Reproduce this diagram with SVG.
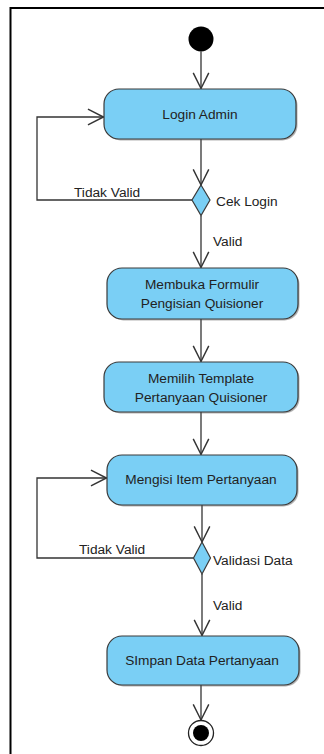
<svg xmlns="http://www.w3.org/2000/svg" width="324" height="754" viewBox="0 0 324 754">
<style>
.act{fill:#7ACFF5;stroke:#3a3a3a;stroke-width:1.2}
.shd{fill:#555;opacity:0.45}
.dec{fill:#7ACFF5;stroke:#3a3a3a;stroke-width:1.2}
.t{font-family:"Liberation Sans",Arial,sans-serif;font-size:13.7px;fill:#222}
.c{text-anchor:middle}
.ln{fill:none;stroke:#333;stroke-width:1.3}
</style>
<defs>
<marker id="open" markerUnits="userSpaceOnUse" markerWidth="20" markerHeight="20" viewBox="-16 -9 18 18" refX="0" refY="0" orient="auto">
<path d="M-14,-7 L0,0 L-14,7" fill="none" stroke="#333" stroke-width="1.3"/>
</marker>
</defs>
<path d="M10.5,754 V8 H324" fill="none" stroke="#000" stroke-width="2"/>
<g id="connectors">
<path class="ln" d="M201,51.5 V88.5" marker-end="url(#open)"/>
<path class="ln" d="M201,139 V185" marker-end="url(#open)"/>
<path class="ln" d="M192,200 H37 V117 H103.5" marker-end="url(#open)"/>
<path class="ln" d="M201,215.5 V267.5" marker-end="url(#open)"/>
<path class="ln" d="M201,319 V361.5" marker-end="url(#open)"/>
<path class="ln" d="M201,412 V454.5" marker-end="url(#open)"/>
<path class="ln" d="M202,505 V542" marker-end="url(#open)"/>
<path class="ln" d="M193.5,558 H37 V478 H106.5" marker-end="url(#open)"/>
<path class="ln" d="M202,574 V635.5" marker-end="url(#open)"/>
<path class="ln" d="M201,685 V720" marker-end="url(#open)"/>
<text class="t" x="74" y="197">Tidak Valid</text>
<text class="t" x="213" y="246">Valid</text>
<text class="t" x="79" y="554">Tidak Valid</text>
<text class="t" x="213" y="610">Valid</text>
</g>
<g id="start">
<circle cx="201" cy="39" r="12.5" fill="#000"/>
</g>
<g id="login-admin">
<rect class="shd" x="105.5" y="90.5" width="192" height="50" rx="15"/>
<rect class="act" x="104" y="89" width="192" height="50" rx="15"/>
<text class="t c" x="200" y="119">Login Admin</text>
</g>
<g id="cek-login">
<polygon class="dec" points="201,185 210,200 201,215.5 192,200"/>
<text class="t" x="216" y="206">Cek Login</text>
</g>
<g id="membuka-formulir">
<rect class="shd" x="108.5" y="269.5" width="191" height="51" rx="15"/>
<rect class="act" x="107" y="268" width="191" height="51" rx="15"/>
<text class="t c" x="202" y="289">Membuka Formulir</text>
<text class="t c" x="202" y="308">Pengisian Quisioner</text>
</g>
<g id="memilih-template">
<rect class="shd" x="105.5" y="363.5" width="194" height="50" rx="15"/>
<rect class="act" x="104" y="362" width="194" height="50" rx="15"/>
<text class="t c" x="201" y="382.5">Memilih Template</text>
<text class="t c" x="201" y="401.5">Pertanyaan Quisioner</text>
</g>
<g id="mengisi-item">
<rect class="shd" x="108.5" y="456.5" width="190" height="50" rx="15"/>
<rect class="act" x="107" y="455" width="190" height="50" rx="15"/>
<text class="t c" x="201" y="484">Mengisi Item Pertanyaan</text>
</g>
<g id="validasi-data">
<polygon class="dec" points="202,542 210.5,558 202,574 193.5,558"/>
<text class="t" x="213" y="564.5">Validasi Data</text>
</g>
<g id="simpan-data">
<rect class="shd" x="108.5" y="637.5" width="192" height="49" rx="15"/>
<rect class="act" x="107" y="636" width="192" height="49" rx="15"/>
<text class="t c" x="202" y="665">SImpan Data Pertanyaan</text>
</g>
<g id="end">
<circle cx="201" cy="733" r="12.5" fill="#fff" stroke="#222" stroke-width="1.3"/>
<circle cx="201" cy="733" r="8" fill="#000"/>
</g>
</svg>
